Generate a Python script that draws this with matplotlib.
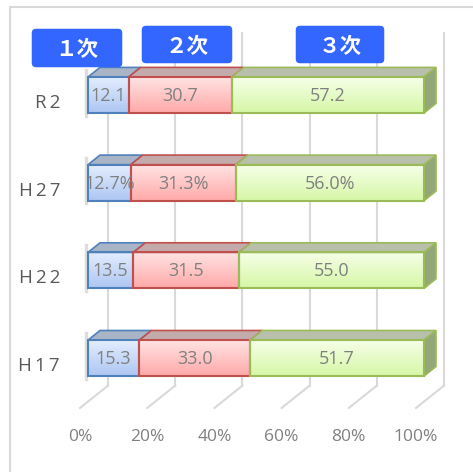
import numpy as np
import matplotlib
matplotlib.use("Agg")
import matplotlib.pyplot as plt
from matplotlib.patches import Polygon, Rectangle, FancyBboxPatch

plt.rcParams['font.family'] = ['Open Sans', 'Noto Sans CJK JP', 'DejaVu Sans']

years = ["R2", "H27", "H22", "H17"]
primary = [12.1, 12.7, 13.5, 15.3]
secondary = [30.7, 31.3, 31.5, 33.0]
tertiary = [57.2, 56.0, 55.0, 51.7]
labels = [
    ["12.1", "30.7", "57.2"],
    ["12.7%", "31.3%", "56.0%"],
    ["13.5", "31.5", "55.0"],
    ["15.3", "33.0", "51.7"],
]
series_names = ["１次", "２次", "３次"]
ticks = [0, 20, 40, 60, 80, 100]
tick_labels = ["0%", "20%", "40%", "60%", "80%", "100%"]

W, H = 473, 472
fig = plt.figure(figsize=(W / 100, H / 100), dpi=100)

# plot area: x 0..100 maps to px 88..424, categories every ~87.7 px
x0px, x1px = 88, 424
y0px, ystep = 95, 87.7
ax = fig.add_axes([x0px / W, 0, (x1px - x0px) / W, 1])
ax.set_xlim(0, 100)
ax.set_ylim((H - y0px) / ystep, -y0px / ystep)
ax.axis('off')

SX = 100 / (x1px - x0px)
SY = 1 / ystep


def depth(d):
    return d * SX, -0.8 * d * SY


def py(p):
    return (p - y0px) * SY


grid_c = '#d9d9d9'
# back wall gridlines and floor
bx, by = depth(20)
fx, fy = depth(-8)
floor_front = py(408)
for v, tl in zip(ticks, tick_labels):
    ax.plot([v + bx, v + bx], [py(33), floor_front + (by - fy)], color=grid_c, lw=1.5,
            clip_on=False, zorder=0)
    ax.plot([v + fx, v + bx], [floor_front, floor_front + (by - fy)], color=grid_c, lw=1.5,
            clip_on=False, zorder=0)
    ax.text(v + fx, py(437), tl, ha='center', va='center',
            fontsize=12.5, color='#808080')

front_cols = [('#e3edfd', '#adc6f3'), ('#ffe3e3', '#ffa9a9'), ('#f5ffe8', '#d6f7a6')]
edge_cols = ['#4f81bd', '#c0504d', '#9bbb59']
top_cols = ['#a9b4c6', '#c4abab', '#b8c0ab']
side_col = '#93a778'

h = 36 * SY
dx, dy = depth(12)
vals = np.array([primary, secondary, tertiary])

for i, name in enumerate(years):
    top, bot = i - h / 2, i + h / 2
    # soft shadow on the left edge
    ax.plot([-0.7, -0.7], [top + dy + 0.03, bot + 0.03], color='#555555', lw=2.5, alpha=0.2,
            clip_on=False, zorder=1)
    left = 0
    for s in range(3):
        w = vals[s][i]
        grad = np.linspace(0, 1, 50).reshape(-1, 1)
        c0 = np.array(matplotlib.colors.to_rgb(front_cols[s][0]))
        c1 = np.array(matplotlib.colors.to_rgb(front_cols[s][1]))
        img = c0 + grad[..., None] * (c1 - c0)
        ax.imshow(img.reshape(50, 1, 3), extent=(left, left + w, bot, top), aspect='auto',
                  zorder=2, interpolation='bilinear')
        ax.add_patch(Rectangle((left, top), w, h, fill=False, ec=edge_cols[s], lw=1.5,
                               zorder=3, clip_on=False))
        ax.add_patch(Polygon([(left, top), (left + w, top), (left + w + dx, top + dy),
                              (left + dx, top + dy)], closed=True, fc=top_cols[s],
                             ec=edge_cols[s], lw=1.2, zorder=2, clip_on=False))
        if s == 2:
            r = left + w
            ax.add_patch(Polygon([(r, top), (r + dx, top + dy), (r + dx, bot + dy), (r, bot)],
                                 closed=True, fc=side_col, ec=edge_cols[s], lw=1.2, zorder=2,
                                 clip_on=False))
        ax.text(left + w / 2, i + 1 * SY, labels[i][s], ha='center', va='center',
                fontsize=13, color='#808080', zorder=4)
        left += w
    ax.text(-8.3, i + 8 * SY, "\u2009".join(name), ha='right', va='center', fontsize=13.5,
            color='#595959')

ax.set_ylim(ax.get_ylim())

# chart border
fig.add_artist(Rectangle((10 / W, -0.1), 1.2, 1.1 - 7 / H, transform=fig.transFigure,
                         fill=False, ec='#d9d9d9', lw=1.5))

# legend boxes
boxes = [(32, 29, 90, 38), (142, 26, 90, 37), (296, 26, 88, 37)]
for (bx0, by0, bw, bh), nm in zip(boxes, series_names):
    fig.add_artist(FancyBboxPatch(((bx0 + 4) / W, 1 - (by0 + bh - 4) / H), (bw - 8) / W,
                                  (bh - 8) / H, boxstyle="round,pad=0.009",
                                  transform=fig.transFigure, fc='#3366ff', ec='none'))
    fig.text((bx0 + bw / 2) / W, 1 - (by0 + bh / 2 + 2) / H, nm, ha='center', va='center',
             color='white', fontsize=15.5, fontweight='bold',
             family=['Noto Sans CJK JP', 'DejaVu Sans'])

fig.savefig("out.png", dpi=100, facecolor='white')
